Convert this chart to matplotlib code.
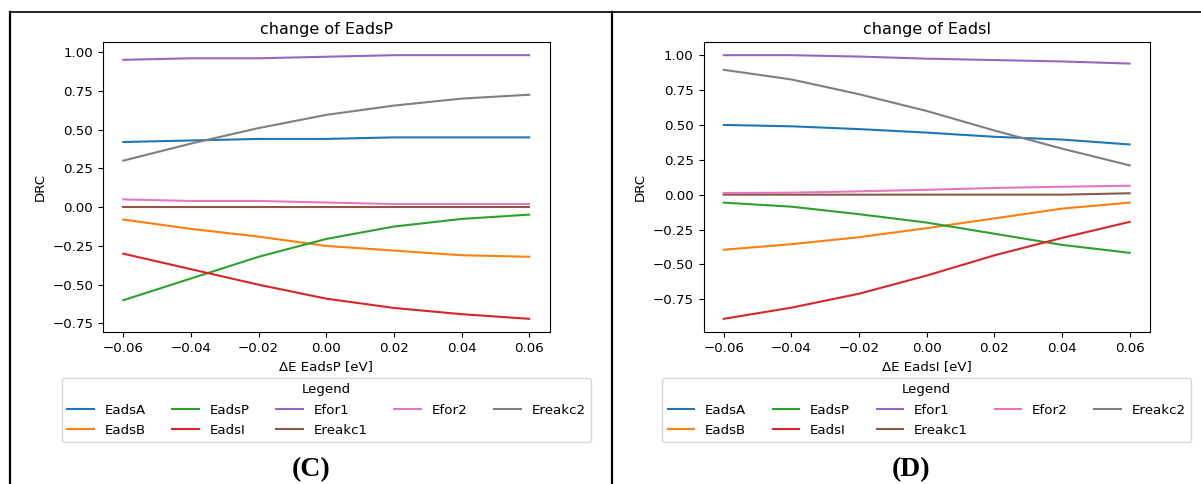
import matplotlib
matplotlib.use("Agg")
import matplotlib.pyplot as plt
from matplotlib.lines import Line2D

# shift of the binding energy [eV]
delta_e = [-0.06, -0.04, -0.02, 0.00, 0.02, 0.04, 0.06]
series_names = ["EadsA", "EadsB", "EadsP", "EadsI", "Efor1", "Ereakc1", "Efor2", "Ereakc2"]

# panel (C): change of EadsP
drc_c_eadsA = [0.42, 0.43, 0.44, 0.44, 0.45, 0.45, 0.45]
drc_c_eadsB = [-0.08, -0.14, -0.19, -0.25, -0.28, -0.31, -0.32]
drc_c_eadsP = [-0.60, -0.46, -0.32, -0.205, -0.125, -0.076, -0.048]
drc_c_eadsI = [-0.30, -0.40, -0.50, -0.59, -0.65, -0.69, -0.72]
drc_c_efor1 = [0.95, 0.96, 0.96, 0.97, 0.98, 0.98, 0.98]
drc_c_ereakc1 = [0.0, 0.0, 0.0, 0.0, 0.0, 0.0, 0.0]
drc_c_efor2 = [0.05, 0.04, 0.04, 0.03, 0.02, 0.02, 0.02]
drc_c_ereakc2 = [0.30, 0.41, 0.51, 0.595, 0.655, 0.70, 0.725]

# panel (D): change of EadsI
drc_d_eadsA = [0.50, 0.49, 0.47, 0.445, 0.415, 0.395, 0.36]
drc_d_eadsB = [-0.395, -0.355, -0.305, -0.24, -0.17, -0.10, -0.057]
drc_d_eadsP = [-0.057, -0.086, -0.14, -0.20, -0.28, -0.36, -0.417]
drc_d_eadsI = [-0.89, -0.81, -0.71, -0.58, -0.435, -0.31, -0.195]
drc_d_efor1 = [1.0, 1.0, 0.99, 0.975, 0.965, 0.955, 0.94]
drc_d_ereakc1 = [0.0, 0.0, 0.0, 0.0, 0.0, 0.0, 0.01]
drc_d_efor2 = [0.012, 0.014, 0.024, 0.035, 0.048, 0.057, 0.064]
drc_d_ereakc2 = [0.895, 0.826, 0.72, 0.60, 0.46, 0.33, 0.21]

panels = [
    ("EadsP", "(C)", [drc_c_eadsA, drc_c_eadsB, drc_c_eadsP, drc_c_eadsI,
                      drc_c_efor1, drc_c_ereakc1, drc_c_efor2, drc_c_ereakc2]),
    ("EadsI", "(D)", [drc_d_eadsA, drc_d_eadsB, drc_d_eadsP, drc_d_eadsI,
                      drc_d_efor1, drc_d_ereakc1, drc_d_efor2, drc_d_ereakc2]),
]

W, H = 1201, 484
fig = plt.figure(figsize=(W / 100, H / 100), dpi=100)

# pixel layout of each panel (left edge of axes)
axes_left_px = [103, 703.5]
axes_w_px = 446.5
axes_top_px, axes_bottom_px = 42, 332
fs = 9.6

for (varied, tag, curves), left in zip(panels, axes_left_px):
    ax = fig.add_axes([left / W, 1 - axes_bottom_px / H,
                       axes_w_px / W, (axes_bottom_px - axes_top_px) / H])
    for name, values in zip(series_names, curves):
        ax.plot(delta_e, values, label=name)
    ax.set_title(f"change of {varied}", fontsize=11.5)
    ax.set_xlabel(f"ΔE {varied} [eV]", fontsize=fs)
    ax.set_ylabel("DRC", fontsize=fs)
    ax.set_xticks(delta_e)
    ax.tick_params(labelsize=fs)
    ax.legend(title="Legend", ncol=5, loc="upper center", fontsize=fs,
              title_fontsize=fs, borderaxespad=0, labelspacing=0.55,
              bbox_to_anchor=(0.5, -(378 - axes_bottom_px) / (axes_bottom_px - axes_top_px)))
    # panel tag below the chart
    fig.text((left + 208) / W, 1 - 470 / H, tag, ha="center", va="center",
             fontsize=20, fontweight="bold", family="Liberation Serif")

# table borders around the panels
fig.add_artist(Line2D([10 / W, 1.0], [1 - 12 / H, 1 - 12 / H], color="black", lw=1.2))
for x in (10, 612):
    fig.add_artist(Line2D([x / W, x / W], [0, 1 - 12 / H], color="black", lw=1.6))

fig.savefig("out.png", dpi=100)
